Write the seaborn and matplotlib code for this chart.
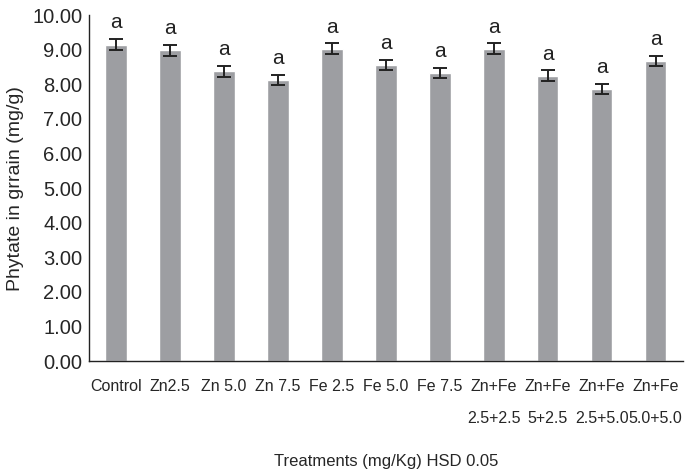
import numpy as np
import matplotlib
matplotlib.use("Agg")
import matplotlib.pyplot as plt
import seaborn as sns

# Данные
treatments = ["Control", "Zn2.5", "Zn 5.0", "Zn 7.5", "Fe 2.5", "Fe 5.0", "Fe 7.5",
              "Zn+Fe\n2.5+2.5", "Zn+Fe\n5+2.5", "Zn+Fe\n2.5+5.0", "Zn+Fe\n5.0+5.0"]
phytate = [9.15, 8.98, 8.37, 8.13, 9.03, 8.55, 8.32, 9.03, 8.25, 7.87, 8.68]
errors = [0.15, 0.15, 0.15, 0.15, 0.15, 0.15, 0.15, 0.15, 0.15, 0.15, 0.15]
letters = ["a"] * 11

sns.set_style("white")
plt.rcParams['font.family'] = ['Liberation Sans', 'DejaVu Sans']

fig = plt.figure(figsize=(6.86, 4.72), dpi=100)
ax = fig.add_axes([0.13, 0.235, 0.865, 0.733])

x = np.arange(len(treatments))
sns.barplot(x=treatments, y=phytate, color="#9d9ea2", width=0.4, saturation=1, ax=ax)
ax.errorbar(x, phytate, yerr=errors, fmt="none", ecolor="#222222",
            elinewidth=1.4, capsize=5, capthick=1.4)

for xi, v, e, lt in zip(x, phytate, errors, letters):
    ax.text(xi, v + e + 0.2, lt, ha="center", va="bottom", fontsize=15, color="#222222")

ax.set_ylim(0, 10)
ax.set_xlim(-0.5, 10.5)
ax.set_yticks(np.arange(0, 10.01, 1))
ax.set_yticklabels([f"{t:.2f}" for t in np.arange(0, 10.01, 1)], fontsize=14.5)

# метки категорий по центру, засечки на границах
ax.set_xticks(np.arange(0.5, 11, 1))
ax.set_xticklabels([])
ax.set_xticks(x, minor=True)
ax.set_xticklabels(treatments, minor=True, fontsize=11.5, linespacing=2.4, va="top")
ax.tick_params(axis="x", which="major", direction="out", length=9, width=1, color="#222222")
ax.tick_params(axis="x", which="minor", length=0, pad=13)
ax.tick_params(axis="y", direction="out", length=4, width=1, color="#222222", pad=1)

sns.despine(ax=ax)
for s in ["left", "bottom"]:
    ax.spines[s].set_color("#222222")
    ax.spines[s].set_linewidth(1)

ax.set_ylabel("Phytate in grrain (mg/g)", fontsize=14, labelpad=6)
ax.set_xlabel("Treatments (mg/Kg) HSD 0.05", fontsize=12, labelpad=20)

plt.savefig("out.png", dpi=100)
